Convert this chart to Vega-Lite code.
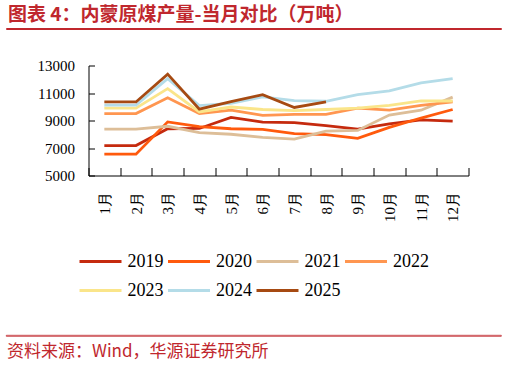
{
  "$schema": "https://vega.github.io/schema/vega-lite/v6.json",
  "background": "white",
  "padding": {"left": 5, "top": 5, "right": 5, "bottom": 0},
  "spacing": 28.5,
  "center": false,
  "bounds": "full",
  "resolve": {"legend": {"color": "independent"}, "scale": {"color": "independent"}},
  "config": {
    "view": {"stroke": null},
    "font": "Liberation Serif",
    "axis": {"labelFont": "Liberation Serif", "labelFontSize": 15, "labelColor": "#000", "domainColor": "#000", "tickColor": "#000", "domainWidth": 1, "tickWidth": 1, "grid": false, "title": null}
  },
  "vconcat": [
    {
      "width": 495,
      "height": 1,
      "view": {"stroke": "#C0272D", "strokeWidth": 1},
      "title": {"text": "图表 4：内蒙原煤产量-当月对比（万吨）", "anchor": "start", "frame": "group", "font": "Noto Sans CJK SC", "fontSize": 19, "fontWeight": "bold", "color": "#C0272D", "offset": 3, "dx": 2},
      "data": {"values": []},
      "mark": "text",
      "encoding": {"text": {"value": ""}}
    },
    {
      "spacing": 29.5,
      "bounds": "full",
      "resolve": {"legend": {"color": "independent"}, "scale": {"color": "independent"}},
      "hconcat": [
        {
          "width": 1,
          "height": 1,
          "data": {"values": []},
          "mark": "text",
          "encoding": {"text": {"value": ""}}
        },
        {
          "width": 380,
          "height": 110,
          "data": {"values": [
            {"month": "1月", "year": "2019", "value": 7180},
            {"month": "2月", "year": "2019", "value": 7180},
            {"month": "3月", "year": "2019", "value": 8400},
            {"month": "4月", "year": "2019", "value": 8420},
            {"month": "5月", "year": "2019", "value": 9230},
            {"month": "6月", "year": "2019", "value": 8880},
            {"month": "7月", "year": "2019", "value": 8850},
            {"month": "8月", "year": "2019", "value": 8620},
            {"month": "9月", "year": "2019", "value": 8380},
            {"month": "10月", "year": "2019", "value": 8750},
            {"month": "11月", "year": "2019", "value": 9050},
            {"month": "12月", "year": "2019", "value": 8950},
            {"month": "1月", "year": "2020", "value": 6550},
            {"month": "2月", "year": "2020", "value": 6550},
            {"month": "3月", "year": "2020", "value": 8900},
            {"month": "4月", "year": "2020", "value": 8550},
            {"month": "5月", "year": "2020", "value": 8400},
            {"month": "6月", "year": "2020", "value": 8350},
            {"month": "7月", "year": "2020", "value": 8050},
            {"month": "8月", "year": "2020", "value": 7970},
            {"month": "9月", "year": "2020", "value": 7700},
            {"month": "10月", "year": "2020", "value": 8500},
            {"month": "11月", "year": "2020", "value": 9180},
            {"month": "12月", "year": "2020", "value": 9800},
            {"month": "1月", "year": "2021", "value": 8380},
            {"month": "2月", "year": "2021", "value": 8380},
            {"month": "3月", "year": "2021", "value": 8580},
            {"month": "4月", "year": "2021", "value": 8120},
            {"month": "5月", "year": "2021", "value": 8000},
            {"month": "6月", "year": "2021", "value": 7780},
            {"month": "7月", "year": "2021", "value": 7650},
            {"month": "8月", "year": "2021", "value": 8220},
            {"month": "9月", "year": "2021", "value": 8280},
            {"month": "10月", "year": "2021", "value": 9400},
            {"month": "11月", "year": "2021", "value": 9750},
            {"month": "12月", "year": "2021", "value": 10700},
            {"month": "1月", "year": "2022", "value": 9500},
            {"month": "2月", "year": "2022", "value": 9500},
            {"month": "3月", "year": "2022", "value": 10650},
            {"month": "4月", "year": "2022", "value": 9500},
            {"month": "5月", "year": "2022", "value": 9750},
            {"month": "6月", "year": "2022", "value": 9380},
            {"month": "7月", "year": "2022", "value": 9450},
            {"month": "8月", "year": "2022", "value": 9450},
            {"month": "9月", "year": "2022", "value": 9900},
            {"month": "10月", "year": "2022", "value": 9750},
            {"month": "11月", "year": "2022", "value": 10100},
            {"month": "12月", "year": "2022", "value": 10350},
            {"month": "1月", "year": "2023", "value": 9900},
            {"month": "2月", "year": "2023", "value": 9900},
            {"month": "3月", "year": "2023", "value": 11320},
            {"month": "4月", "year": "2023", "value": 9620},
            {"month": "5月", "year": "2023", "value": 9980},
            {"month": "6月", "year": "2023", "value": 9800},
            {"month": "7月", "year": "2023", "value": 9720},
            {"month": "8月", "year": "2023", "value": 9800},
            {"month": "9月", "year": "2023", "value": 9900},
            {"month": "10月", "year": "2023", "value": 10100},
            {"month": "11月", "year": "2023", "value": 10420},
            {"month": "12月", "year": "2023", "value": 10420},
            {"month": "1月", "year": "2024", "value": 10120},
            {"month": "2月", "year": "2024", "value": 10120},
            {"month": "3月", "year": "2024", "value": 12050},
            {"month": "4月", "year": "2024", "value": 10080},
            {"month": "5月", "year": "2024", "value": 10250},
            {"month": "6月", "year": "2024", "value": 10720},
            {"month": "7月", "year": "2024", "value": 10450},
            {"month": "8月", "year": "2024", "value": 10400},
            {"month": "9月", "year": "2024", "value": 10880},
            {"month": "10月", "year": "2024", "value": 11150},
            {"month": "11月", "year": "2024", "value": 11740},
            {"month": "12月", "year": "2024", "value": 12050},
            {"month": "1月", "year": "2025", "value": 10350},
            {"month": "2月", "year": "2025", "value": 10350},
            {"month": "3月", "year": "2025", "value": 12370},
            {"month": "4月", "year": "2025", "value": 9820},
            {"month": "5月", "year": "2025", "value": 10380},
            {"month": "6月", "year": "2025", "value": 10880},
            {"month": "7月", "year": "2025", "value": 9950},
            {"month": "8月", "year": "2025", "value": 10350}
          ]},
          "mark": {"type": "line", "strokeWidth": 2.8},
          "encoding": {
            "x": {
              "field": "month", "type": "ordinal",
              "sort": ["1月", "2月", "3月", "4月", "5月", "6月", "7月", "8月", "9月", "10月", "11月", "12月"],
              "bandPosition": 0.5,
              "scale": {"type": "band", "paddingInner": 0, "paddingOuter": 0},
              "axis": {"title": null, "labelAngle": 270, "tickBand": "extent", "tickSize": -8, "labelPadding": 24}
            },
            "y": {
              "field": "value", "type": "quantitative",
              "scale": {"domain": [5000, 13000], "nice": false, "zero": false},
              "axis": {"title": null, "values": [5000, 7000, 9000, 11000, 13000], "format": "d", "tickSize": -6, "labelPadding": 20, "labelOverlap": false}
            },
            "color": {
              "field": "year", "type": "nominal",
              "scale": {"domain": ["2019", "2020", "2021", "2022", "2023", "2024", "2025"], "range": ["#C52A0E", "#FF5A0D", "#DDBE98", "#FF9650", "#FAE58A", "#B4DCE8", "#A64A12"]},
              "legend": {"orient": "none", "legendX": -3.5, "legendY": 180.5, "direction": "horizontal", "columns": 4, "title": null, "symbolType": "M-2.5,0H2.5", "symbolSize": 282, "symbolStrokeWidth": 3, "labelFont": "Liberation Serif", "labelFontSize": 18, "labelColor": "#000", "labelOffset": 17, "columnPadding": -1.5, "rowPadding": 10, "padding": 5.5}
            }
          }
        }
      ]
    },
    {
      "width": 495,
      "height": 1,
      "view": {"stroke": "#C0272D", "strokeWidth": 0.8},
      "title": {"text": "资料来源：Wind，华源证券研究所", "orient": "bottom", "anchor": "start", "frame": "group", "font": "Noto Sans CJK SC", "fontSize": 17, "fontWeight": "normal", "color": "#C0272D", "offset": 8, "dx": 1},
      "data": {"values": []},
      "mark": "text",
      "encoding": {"text": {"value": ""}}
    }
  ]
}
